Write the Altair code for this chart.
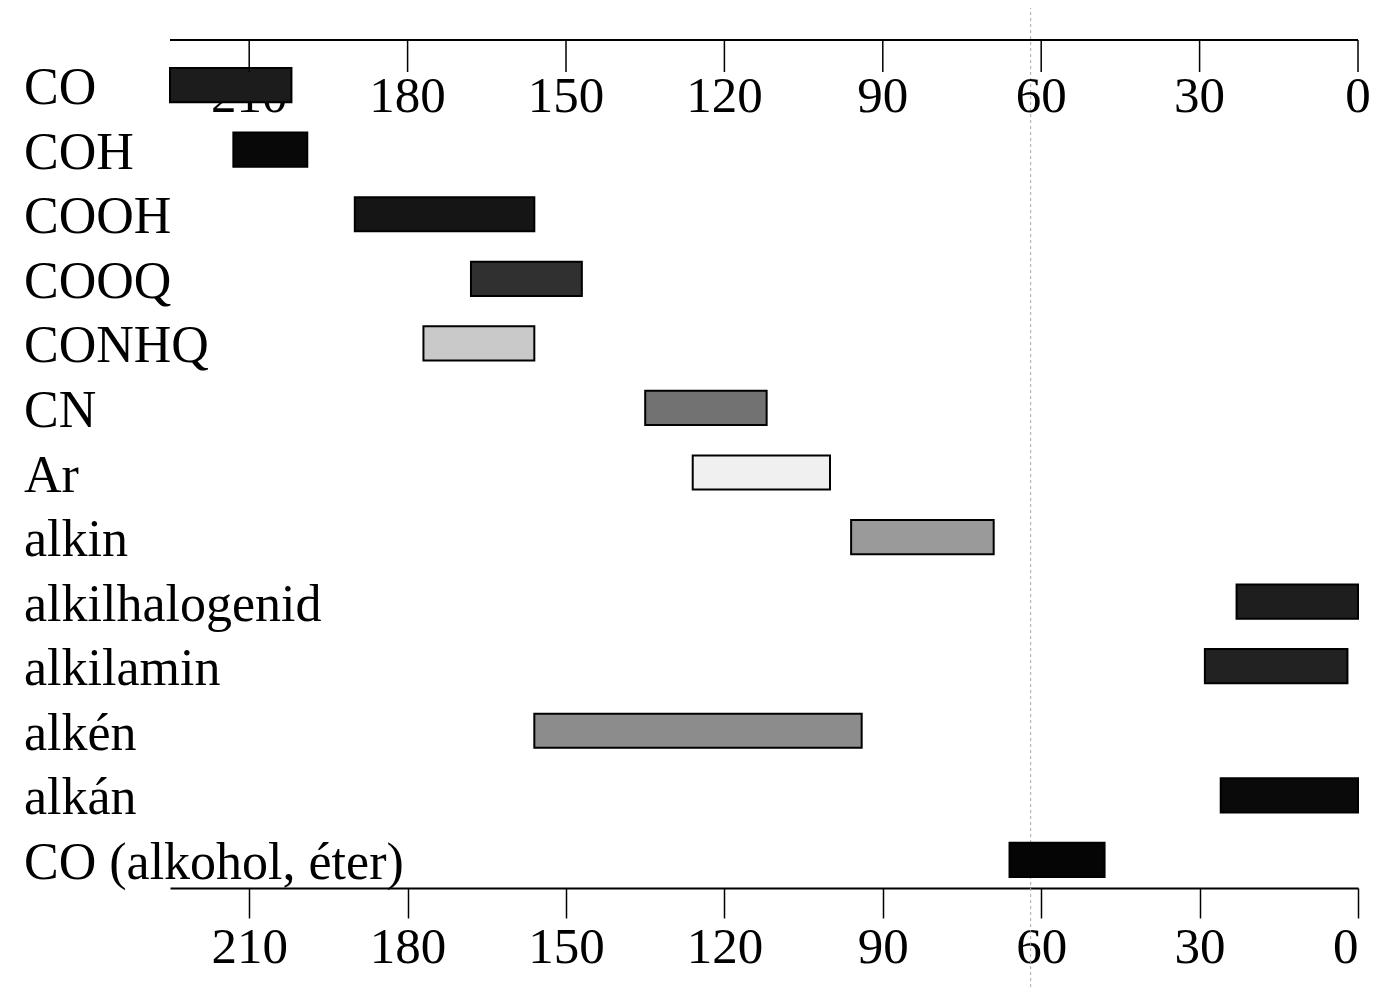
import altair as alt
import pandas as pd

categories = ["CO", "COH", "COOH", "COOQ", "CONHQ", "CN", "Ar", "alkin",
              "alkilhalogenid", "alkilamin", "alkén", "alkán", "CO (alkohol, éter)"]
shift_high = [225, 213, 190, 168, 177, 135, 126, 96, 23, 29, 156, 26, 66]
shift_low = [202, 199, 156, 147, 156, 112, 100, 69, 0, 2, 94, 0, 48]
bar_colors = ["#1c1c1c", "#080808", "#151515", "#303030", "#c9c9c9", "#727272",
              "#f0f0f0", "#9a9a9a", "#1e1e1e", "#222222", "#8c8c8c", "#0a0a0a", "#050505"]
tick_values = [210, 180, 150, 120, 90, 60, 30, 0]
guide_value = [62]

W = 1188
H = 848
FONT = "Liberation Serif"

df = pd.DataFrame({"category": categories, "high": shift_high, "low": shift_low})
ticks = pd.DataFrame({"tick": tick_values})
guide = pd.DataFrame({"g": guide_value})

xscale = alt.Scale(domain=[0, 225], reverse=True, nice=False, zero=False)
yscale = alt.Scale(domain=categories, paddingInner=0.47, paddingOuter=0, range=[28, 837])

xaxis = alt.Axis(orient="bottom", values=tick_values, tickSize=30, tickWidth=1.5,
                 tickColor="black", domainColor="black", domainWidth=2,
                 labelFont=FONT, labelFontSize=51, labelColor="black",
                 labelPadding=4, grid=False, title=None, format="d")

top_labels = alt.Chart(ticks).mark_text(font=FONT, fontSize=51, color="black",
                                        baseline="middle", align="center").encode(
    x=alt.X("tick:Q", scale=xscale, axis=xaxis),
    y=alt.value(57),
    text=alt.Text("tick:Q", format="d"),
)

bars = alt.Chart(df).mark_bar(stroke="black", strokeWidth=2).encode(
    x=alt.X("high:Q", scale=xscale, axis=xaxis),
    x2="low:Q",
    y=alt.Y("category:N", scale=yscale, sort=categories, axis=None),
    color=alt.Color("category:N", scale=alt.Scale(domain=categories, range=bar_colors), legend=None),
)

labels = alt.Chart(df).mark_text(align="left", baseline="middle", font=FONT,
                                 fontSize=52, color="black", dy=3).encode(
    x=alt.value(-146),
    y=alt.Y("category:N", scale=yscale, sort=categories, axis=None),
    text="category:N",
)

guide_line = alt.Chart(guide).mark_rule(color="#a8a8a8", strokeWidth=1, strokeDash=[3, 3]).encode(
    x=alt.X("g:Q", scale=xscale, axis=xaxis),
    y=alt.value(-40),
    y2=alt.value(H + 100),
)

top_domain = alt.Chart(ticks).mark_rule(color="black", strokeWidth=2).encode(
    x=alt.value(0), x2=alt.value(W), y=alt.value(0)
)
top_ticks = alt.Chart(ticks).mark_rule(color="black", strokeWidth=1.5).encode(
    x=alt.X("tick:Q", scale=xscale, axis=xaxis),
    y=alt.value(0), y2=alt.value(32),
)

chart = alt.layer(guide_line, top_labels, bars, labels, top_domain, top_ticks).properties(
    width=W, height=H,
    autosize=alt.AutoSizeParams(type="none"),
    padding={"left": 162, "top": 32, "right": 15, "bottom": 100},
    background="white",
).configure_view(stroke=None)

chart.save("out.html", embed_options={"renderer": "svg", "actions": False})
